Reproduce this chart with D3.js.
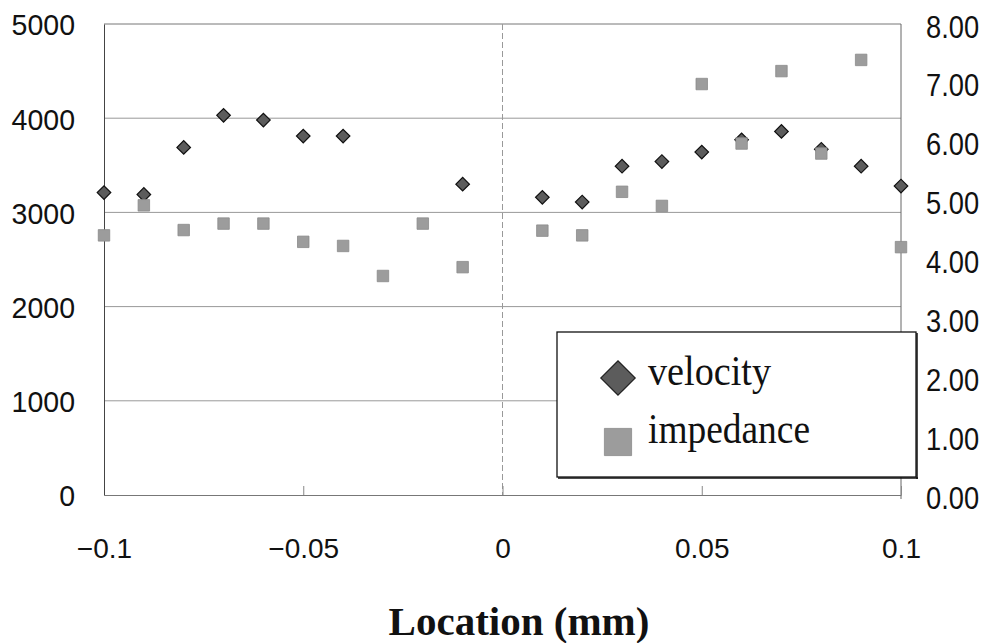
<!DOCTYPE html>
<html>
<head>
<meta charset="utf-8">
<script src="https://cdn.jsdelivr.net/npm/d3@7"></script>
<style>
  html, body { margin: 0; padding: 0; background: #fff; }
  svg { display: block; }
</style>
</head>
<body>
<svg id="chart" width="989" height="643"></svg>
<script>
// ---- data ----
const locations = [-0.1, -0.09, -0.08, -0.07, -0.06, -0.05, -0.04, -0.03, -0.02, -0.01,
                   0.01, 0.02, 0.03, 0.04, 0.05, 0.06, 0.07, 0.08, 0.09, 0.1];
const velocity  = [3210, 3190, 3690, 4030, 3980, 3810, 3810, null, null, 3300,
                   3160, 3110, 3490, 3540, 3640, 3770, 3860, 3670, 3490, 3280];
const impedance = [4.41, 4.92, 4.50, 4.61, 4.61, 4.30, 4.23, 3.72, 4.61, 3.87,
                   4.49, 4.41, 5.15, 4.91, 6.98, 5.97, 7.20, 5.80, 7.39, 4.21];
const xTicks = [-0.1, -0.05, 0, 0.05, 0.1];
const yLeftTicks = [0, 1000, 2000, 3000, 4000, 5000];
const yRightTicks = [0, 1, 2, 3, 4, 5, 6, 7, 8];
const seriesNames = ["velocity", "impedance"];
const xTitle = "Location (mm)";

// ---- layout ----
const L = 104, R = 901, T = 24, B = 495;
const svg = d3.select("#chart");

const x = d3.scaleLinear().domain([-0.1, 0.1]).range([L, R]);
const yL = d3.scaleLinear().domain([0, 5000]).range([B, T]);
const yR = d3.scaleLinear().domain([0, 8]).range([B, T]);

const tickFont = "'Liberation Sans', Arial, sans-serif";
const serifFont = "'Liberation Serif', 'Times New Roman', serif";

function squeeze(sel, ratio) {
  sel.each(function () {
    const w = this.getComputedTextLength();
    d3.select(this).attr("textLength", w * ratio).attr("lengthAdjust", "spacingAndGlyphs");
  });
}

// horizontal gridlines
svg.append("g").selectAll("line")
  .data(yLeftTicks.filter(d => d > 0))
  .join("line")
  .attr("x1", L).attr("x2", R)
  .attr("y1", d => yL(d)).attr("y2", d => yL(d))
  .attr("stroke", d => d === 5000 ? "#777" : "#999")
  .attr("stroke-width", 1);

// vertical line at x = 0
svg.append("line")
  .attr("x1", x(0)).attr("x2", x(0))
  .attr("y1", T).attr("y2", B)
  .attr("stroke", "#999")
  .attr("stroke-dasharray", "6,3")
  .attr("stroke-width", 1);

// right frame line
svg.append("line")
  .attr("x1", R).attr("x2", R)
  .attr("y1", T).attr("y2", B + 4)
  .attr("stroke", "#666").attr("stroke-width", 1);

// bottom axis
const gx = svg.append("g")
  .attr("transform", `translate(0,${B})`)
  .call(d3.axisBottom(x).tickValues(xTicks)
    .tickFormat(d3.format("")).tickSizeInner(-9).tickSizeOuter(0).tickPadding(43));
gx.select(".domain").attr("stroke", "#777");
gx.selectAll(".tick line").attr("stroke", "#888");
gx.selectAll("text")
  .attr("font-family", tickFont).attr("font-size", 28).attr("fill", "#111");

// left axis
const gyL = svg.append("g")
  .attr("transform", `translate(${L},0)`)
  .call(d3.axisLeft(yL).tickValues(yLeftTicks).tickSize(0).tickPadding(29).tickFormat(d3.format("d")));
gyL.select(".domain").attr("stroke", "#444");
gyL.selectAll("text")
  .attr("font-family", tickFont).attr("font-size", 30).attr("fill", "#111")
  .attr("dy", "0.36em");
squeeze(gyL.selectAll("text"), 0.95);

// right axis
const gyR = svg.append("g")
  .attr("transform", `translate(${R},0)`)
  .call(d3.axisRight(yR).tickValues(yRightTicks).tickSize(0).tickPadding(25).tickFormat(d3.format(".2f")));
gyR.select(".domain").remove();
gyR.selectAll("text")
  .attr("font-family", tickFont).attr("font-size", 31).attr("fill", "#111")
  .attr("dy", "0.42em");
squeeze(gyR.selectAll("text"), 0.88);

// ---- markers ----
const diamond = d3.symbol().type(d3.symbolSquare).size(92);
const square = d3.symbol().type(d3.symbolSquare).size(132);

const velData = locations.map((loc, i) => ({loc, v: velocity[i]})).filter(d => d.v != null);
const impData = locations.map((loc, i) => ({loc, v: impedance[i]})).filter(d => d.v != null);

svg.append("g").selectAll("path")
  .data(velData)
  .join("path")
  .attr("d", diamond)
  .attr("transform", d => `translate(${x(d.loc)},${yL(d.v)}) rotate(45)`)
  .attr("fill", "#5c5c5c")
  .attr("stroke", "#111")
  .attr("stroke-width", 1.2);

svg.append("g").selectAll("path")
  .data(impData)
  .join("path")
  .attr("d", square)
  .attr("transform", d => `translate(${x(d.loc)},${yR(d.v)})`)
  .attr("fill", "#9c9c9c")
  .attr("stroke", "#8a8a8a")
  .attr("stroke-width", 0.8);

// ---- legend ----
const lg = svg.append("g");
lg.append("rect")
  .attr("x", 557).attr("y", 332).attr("width", 359).attr("height", 145)
  .attr("fill", "#fff").attr("stroke", "#111").attr("stroke-width", 1.3);
lg.append("line").attr("x1", 917).attr("x2", 917).attr("y1", 333).attr("y2", 479)
  .attr("stroke", "#111").attr("stroke-width", 1.5);
lg.append("line").attr("x1", 558).attr("x2", 918).attr("y1", 478).attr("y2", 478)
  .attr("stroke", "#111").attr("stroke-width", 1.5);

lg.append("path")
  .attr("d", d3.symbol().type(d3.symbolSquare).size(590)())
  .attr("transform", "translate(618,378) rotate(45)")
  .attr("fill", "#5c5c5c").attr("stroke", "#222").attr("stroke-width", 1.2);
lg.append("path")
  .attr("d", d3.symbol().type(d3.symbolSquare).size(740)())
  .attr("transform", "translate(618,442)")
  .attr("fill", "#9c9c9c").attr("stroke", "#8a8a8a").attr("stroke-width", 0.8);

const legendText = [
  {name: seriesNames[0], y: 385, len: 123},
  {name: seriesNames[1], y: 443, len: 162}
];
lg.selectAll("text.leg")
  .data(legendText)
  .join("text")
  .attr("class", "leg")
  .attr("x", 648).attr("y", d => d.y)
  .attr("font-family", serifFont).attr("font-size", 43)
  .attr("textLength", d => d.len).attr("lengthAdjust", "spacingAndGlyphs")
  .attr("fill", "#111")
  .text(d => d.name);

// ---- x title ----
svg.append("text")
  .attr("x", 519).attr("y", 635)
  .attr("text-anchor", "middle")
  .attr("font-family", serifFont).attr("font-weight", "bold").attr("font-size", 41)
  .attr("fill", "#111")
  .text(xTitle);
</script>
</body>
</html>
